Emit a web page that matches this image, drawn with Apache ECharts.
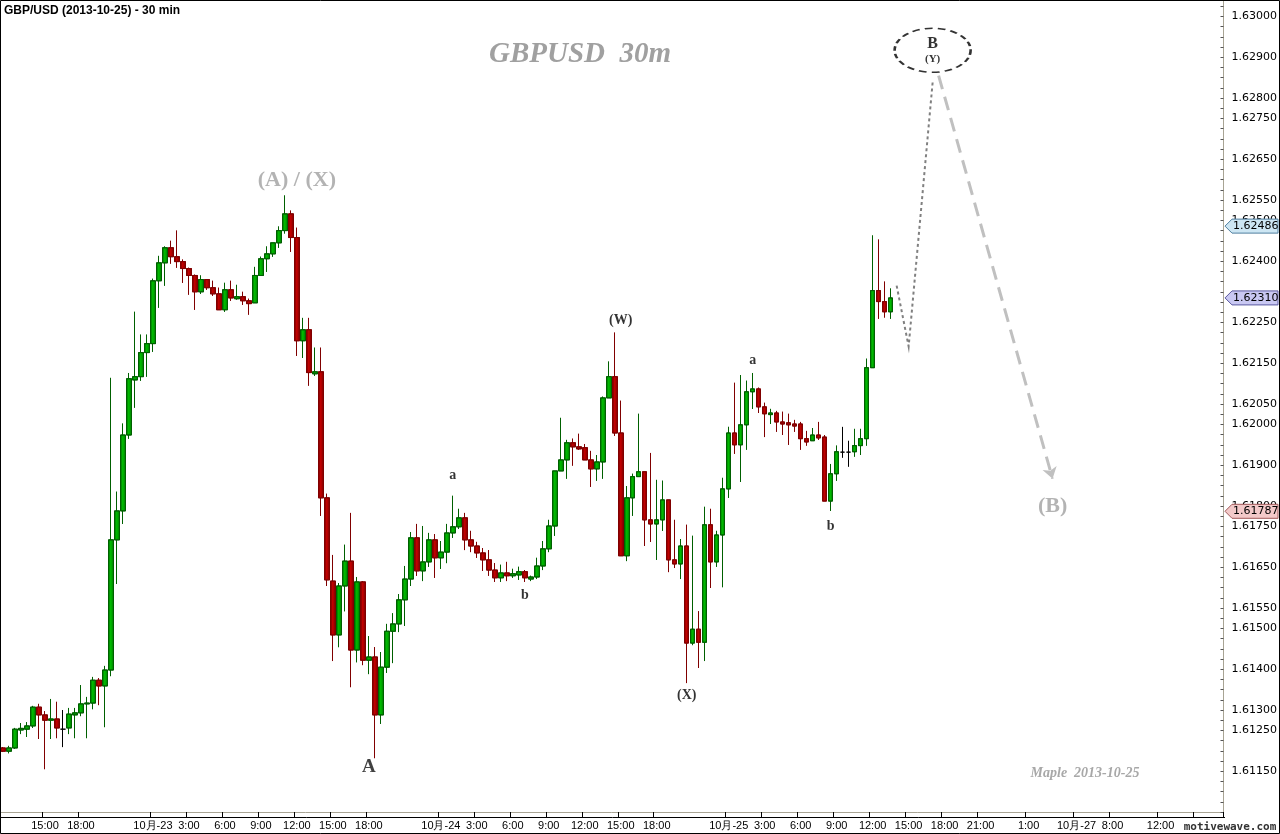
<!DOCTYPE html>
<html><head><meta charset="utf-8">
<script src="https://cdn.jsdelivr.net/npm/echarts@6.0.0/dist/echarts.min.js"></script>
<style>html,body{margin:0;padding:0;background:#fff}#c{width:1280px;height:834px}</style>
</head><body><div id="c"></div>
<script>
// ---- data ----
const sessions = [['2013-10-22 11:30','2013-10-26 04:30'],['2013-10-27 05:00','2013-10-27 17:00']];
// [open, close, low, high] one row per 30-min bar starting 10-22 11:30
const candles = [
[1.61207,1.61199,1.61197,1.61209],[1.61199,1.61207,1.61194,1.61212],[1.61207,1.61253,1.61205,1.61256],[1.61251,1.61255,1.61241,1.61268],[1.61253,1.61261,1.61234,1.61270],
[1.61261,1.61307,1.61256,1.61310],[1.61307,1.61288,1.61229,1.61315],[1.61288,1.61275,1.61155,1.61297],[1.61275,1.61278,1.61229,1.61327],[1.61278,1.61256,1.61231,1.61320],
[1.61253,1.61253,1.61209,1.61300],[1.61256,1.61290,1.61241,1.61305],[1.61288,1.61293,1.61231,1.61305],[1.61293,1.61315,1.61285,1.61361],[1.61315,1.61317,1.61231,1.61332],
[1.61317,1.61373,1.61302,1.61381],[1.61373,1.61359,1.61312,1.61378],[1.61359,1.61398,1.61258,1.61408],[1.61398,1.61717,1.61383,1.62114],[1.61717,1.61788,1.61609,1.61835],
[1.61788,1.61974,1.61756,1.62002],[1.61974,1.62112,1.61965,1.62126],[1.62109,1.62117,1.62041,1.62276],[1.62117,1.62176,1.62107,1.62220],[1.62176,1.62198,1.62117,1.62220],
[1.62198,1.62352,1.62178,1.62357],[1.62352,1.62396,1.62286,1.62413],[1.62396,1.62433,1.62340,1.62436],[1.62433,1.62411,1.62394,1.62450],[1.62411,1.62399,1.62384,1.62475],
[1.62399,1.62382,1.62347,1.62404],[1.62382,1.62365,1.62318,1.62384],[1.62365,1.62325,1.62281,1.62367],[1.62325,1.62355,1.62320,1.62365],[1.62355,1.62335,1.62330,1.62355],
[1.62335,1.62320,1.62315,1.62352],[1.62320,1.62281,1.62281,1.62335],[1.62281,1.62330,1.62276,1.62347],[1.62330,1.62310,1.62303,1.62352],[1.62308,1.62313,1.62306,1.62342],
[1.62313,1.62303,1.62293,1.62325],[1.62303,1.62296,1.62269,1.62308],[1.62298,1.62365,1.62298,1.62386],[1.62365,1.62406,1.62365,1.62411],[1.62406,1.62418,1.62374,1.62436],
[1.62418,1.62445,1.62411,1.62445],[1.62445,1.62475,1.62433,1.62485],[1.62475,1.62516,1.62468,1.62561],[1.62516,1.62458,1.62423,1.62524],[1.62458,1.62205,1.62168,1.62482],
[1.62205,1.62232,1.62163,1.62261],[1.62232,1.62127,1.62095,1.62261],[1.62124,1.62129,1.62119,1.62188],[1.62129,1.61820,1.61776,1.62188],[1.61820,1.61619,1.61604,1.61830],
[1.61616,1.61484,1.61420,1.61680],[1.61484,1.61604,1.61454,1.61611],[1.61604,1.61665,1.61542,1.61705],[1.61665,1.61447,1.61356,1.61783],[1.61447,1.61614,1.61417,1.61626],
[1.61614,1.61422,1.61410,1.61616],[1.61422,1.61430,1.61388,1.61481],[1.61430,1.61288,1.61182,1.61454],[1.61288,1.61405,1.61266,1.61442],[1.61405,1.61493,1.61391,1.61511],
[1.61493,1.61511,1.61415,1.61537],[1.61511,1.61570,1.61491,1.61584],[1.61570,1.61621,1.61506,1.61653],[1.61621,1.61722,1.61604,1.61736],[1.61722,1.61641,1.61629,1.61756],
[1.61641,1.61663,1.61616,1.61751],[1.61663,1.61717,1.61651,1.61734],[1.61717,1.61673,1.61624,1.61731],[1.61673,1.61687,1.61646,1.61714],[1.61687,1.61734,1.61660,1.61756],
[1.61734,1.61749,1.61722,1.61825],[1.61749,1.61771,1.61744,1.61793],[1.61771,1.61717,1.61692,1.61783],[1.61717,1.61702,1.61687,1.61739],[1.61702,1.61685,1.61673,1.61712],
[1.61685,1.61668,1.61641,1.61697],[1.61668,1.61643,1.61629,1.61692],[1.61643,1.61624,1.61614,1.61660],[1.61624,1.61636,1.61614,1.61656],[1.61636,1.61629,1.61616,1.61663],
[1.61629,1.61634,1.61624,1.61646],[1.61631,1.61639,1.61619,1.61651],[1.61639,1.61624,1.61614,1.61643],[1.61621,1.61626,1.61616,1.61629],[1.61626,1.61653,1.61621,1.61673],
[1.61653,1.61695,1.61643,1.61714],[1.61695,1.61751,1.61687,1.61766],[1.61751,1.61886,1.61727,1.61886],[1.61886,1.61913,1.61886,1.62016],[1.61913,1.61955,1.61867,1.61962],
[1.61955,1.61945,1.61899,1.61965],[1.61945,1.61940,1.61938,1.61977],[1.61943,1.61913,1.61913,1.61952],[1.61913,1.61891,1.61847,1.61935],[1.61891,1.61908,1.61862,1.61925],
[1.61908,1.62065,1.61867,1.62068],[1.62065,1.62117,1.62065,1.62154],[1.62117,1.61979,1.61972,1.62225],[1.61979,1.61678,1.61678,1.62058],[1.61678,1.61820,1.61665,1.61849],
[1.61820,1.61872,1.61776,1.61879],[1.61872,1.61884,1.61872,1.62026],[1.61884,1.61766,1.61702,1.61884],[1.61766,1.61756,1.61712,1.61930],[1.61756,1.61766,1.61668,1.61864],
[1.61766,1.61815,1.61739,1.61862],[1.61815,1.61668,1.61638,1.61815],[1.61668,1.61658,1.61648,1.61766],[1.61658,1.61702,1.61621,1.61719],[1.61702,1.61464,1.61366,1.61754],
[1.61464,1.61498,1.61459,1.61727],[1.61498,1.61466,1.61403,1.61542],[1.61466,1.61754,1.61420,1.61798],[1.61754,1.61663,1.61599,1.61793],[1.61663,1.61729,1.61651,1.61739],
[1.61729,1.61842,1.61601,1.61869],[1.61842,1.61979,1.61820,1.61994],[1.61979,1.61950,1.61928,1.62102],[1.61950,1.61999,1.61859,1.62121],[1.61999,1.62080,1.61938,1.62107],
[1.62080,1.62087,1.62038,1.62126],[1.62087,1.62043,1.62028,1.62090],[1.62043,1.62026,1.61969,1.62053],[1.62024,1.62028,1.62001,1.62038],[1.62028,1.62006,1.61982,1.62033],
[1.62006,1.62001,1.61974,1.62031],[1.62004,1.61999,1.61950,1.62026],[1.62001,1.61996,1.61982,1.62011],[1.62001,1.61965,1.61938,1.62006],[1.61965,1.61957,1.61948,1.61984],
[1.61960,1.61974,1.61960,1.61991],[1.61974,1.61967,1.61962,1.62006],[1.61969,1.61812,1.61812,1.61974],[1.61812,1.61879,1.61788,1.61903],[1.61879,1.61933,1.61862,1.61948],
[1.61932,1.61932,1.61918,1.61994],[1.61932,1.61932,1.61896,1.61960],[1.61933,1.61948,1.61921,1.61989],[1.61948,1.61965,1.61925,1.61989],[1.61965,1.62139,1.61948,1.62161],
[1.62139,1.62328,1.62139,1.62463],[1.62328,1.62301,1.62259,1.62453],[1.62301,1.62276,1.62262,1.62350],[1.62276,1.62310,1.62259,1.62333]
];
const xTickLabels = {
 '10-22 15:00':'15:00','10-22 18:00':'18:00',
 '10-23 00:00':'10月-23','10-23 03:00':'3:00','10-23 06:00':'6:00','10-23 09:00':'9:00','10-23 12:00':'12:00','10-23 15:00':'15:00','10-23 18:00':'18:00',
 '10-24 00:00':'10月-24','10-24 03:00':'3:00','10-24 06:00':'6:00','10-24 09:00':'9:00','10-24 12:00':'12:00','10-24 15:00':'15:00','10-24 18:00':'18:00',
 '10-25 00:00':'10月-25','10-25 03:00':'3:00','10-25 06:00':'6:00','10-25 09:00':'9:00','10-25 12:00':'12:00','10-25 15:00':'15:00','10-25 18:00':'18:00','10-25 21:00':'21:00',
 '10-26 01:00':'1:00','10-27 05:00':'10月-27','10-27 08:00':'8:00','10-27 12:00':'12:00','10-27 15:00':'15:00'
};
const yTickLabels = [1.63000,1.62900,1.62800,1.62750,1.62650,1.62550,1.62500,1.62400,1.62300,1.62250,1.62150,1.62050,1.62000,1.61900,1.61800,1.61750,1.61650,1.61550,1.61500,1.61400,1.61300,1.61250,1.61150];
const priceMarkers = [1.62486, 1.62310, 1.61787];
// wave labels: [text, bar time, price, kind]
const waveLabels = [
 ['(A) / (X)','10-23 12:00',1.62598,'grayBig'],
 ['A','10-23 18:00',1.61160,'major'],
 ['a','10-24 01:00',1.61874,'minor'],
 ['b','10-24 07:00',1.61582,'minor'],
 ['(W)','10-24 15:00',1.62256,'minor'],
 ['(X)','10-24 20:30',1.61336,'minor'],
 ['a','10-25 02:00',1.62156,'minor'],
 ['b','10-25 08:30',1.61751,'minor'],
 ['(B)','10-26 03:00',1.61800,'grayBig']
];
const ellipseLabel = ['B','(Y)','10-25 17:00',1.62917];
const projDotted = [['10-25 14:00',1.62340],['10-25 15:00',1.62191],['10-25 17:00',1.62838]];
const projDashed = [['10-25 17:30',1.62855],['10-26 03:00',1.61867]];

// ---- build ----
const pad = n => String(n).padStart(2,'0');
function parseT(s){const [d,t]=s.split(' ');const [Y,M,D]=d.split('-').map(Number);const [h,m]=t.split(':').map(Number);return Date.UTC(Y,M-1,D,h,m);}
const categories = [];
sessions.forEach(([a,b])=>{for(let t=parseT(a);t<=parseT(b);t+=1800000){const d=new Date(t);categories.push(pad(d.getUTCMonth()+1)+'-'+pad(d.getUTCDate())+' '+pad(d.getUTCHours())+':'+pad(d.getUTCMinutes()));}});

const G = echarts.graphic;
const upFill = new G.LinearGradient(0,0,1,0,[{offset:0,color:'#005a00'},{offset:0.45,color:'#00c000'},{offset:1,color:'#007000'}]);
const dnFill = new G.LinearGradient(0,0,1,0,[{offset:0,color:'#5a0000'},{offset:0.45,color:'#c80000'},{offset:1,color:'#700000'}]);
const candleData = candles.map(r => r[0]===r[1]
  ? {value:r, itemStyle:{color:'#000',color0:'#000',borderColor:'#000',borderColor0:'#000'}}
  : r);

const kindStyle = {
  grayBig:{color:'#a0a0a0',fontSize:22,fontWeight:'bold',fontFamily:'Liberation Serif'},
  major:{color:'#111',fontSize:19,fontWeight:'bold',fontFamily:'Liberation Serif'},
  minor:{color:'#000',fontSize:14,fontWeight:'bold',fontFamily:'Liberation Serif'}
};
const labelSeries = waveLabels.map(([txt,t,p,k])=>({
  value:[t,p], label:Object.assign({show:true,position:'inside',formatter:txt},kindStyle[k])
}));

const yLabelSet = new Set(yTickLabels.map(v=>Math.round(v*100000)));

const chart = echarts.init(document.getElementById('c'), null, {renderer:'canvas'});
const option = {
  animation:false,
  backgroundColor:'#fff',
  grid:{left:0,right:55,top:0,bottom:22,containLabel:false},
  xAxis:{type:'category',data:categories,boundaryGap:true,
    axisLine:{show:true,lineStyle:{color:'#a8a494',width:1}},
    axisTick:{show:true,length:5,interval:(i,v)=>v in xTickLabels,lineStyle:{color:'#000'}},
    axisLabel:{interval:(i,v)=>v in xTickLabels,formatter:v=>xTickLabels[v]||'',color:'#000',fontSize:11,fontFamily:'Liberation Sans',margin:8},
    splitLine:{show:false}},
  yAxis:{type:'value',position:'right',min:1.6105,max:1.630402,interval:0.00025,scale:true,
    axisLine:{show:true,lineStyle:{color:'#a8a494'}},
    axisTick:{show:true,inside:true,length:3,lineStyle:{color:'#555'}},
    axisLabel:{formatter:v=>yLabelSet.has(Math.round(v*100000))?v.toFixed(5):'',color:'#000',fontSize:11,fontFamily:'DejaVu Sans',margin:8,showMinLabel:true,showMaxLabel:true},
    splitLine:{show:false}},
  series:[
    {type:'candlestick',data:candleData,barWidth:5,
      itemStyle:{color:upFill,color0:dnFill,borderColor:'#006000',borderColor0:'#800000',borderWidth:1}},
    {type:'lines',coordinateSystem:'cartesian2d',polyline:true,z:5,
      lineStyle:{color:'#808080',width:2,type:[3,3],opacity:1},
      data:[{coords:projDotted}]},
    {type:'lines',coordinateSystem:'cartesian2d',z:5,symbol:['none','arrow'],symbolSize:[0,11],
      lineStyle:{color:'#c0c0c0',width:3,type:[14,8],opacity:1},
      data:[{coords:projDashed}]},
    {type:'scatter',symbolSize:1,itemStyle:{color:'rgba(0,0,0,0)'},z:10,data:labelSeries},
    {type:'scatter',z:10,symbol:'circle',symbolSize:[76,44],
      itemStyle:{color:'#fff',borderColor:'#000',borderWidth:2,borderType:[6,4]},
      label:{show:true,position:'inside',formatter:'{b|'+ellipseLabel[0]+'}\n{y|'+ellipseLabel[1]+'}',
        rich:{b:{fontSize:16,fontWeight:'bold',fontFamily:'Liberation Serif',color:'#000',lineHeight:17},
              y:{fontSize:11,fontWeight:'bold',fontFamily:'Liberation Serif',color:'#000',lineHeight:13}}},
      data:[[ellipseLabel[2],ellipseLabel[3]]]}
  ],
  graphic:[]
};
chart.setOption(option);

// price markers on the right axis + static texts
const markerFill = ['#cde6f3','#c9c8f2','#f3c9c9'];
const markerStroke = ['#4f7f9f','#5a58a0','#a05858'];
const gr = [];
priceMarkers.forEach((v,i)=>{
  const y = chart.convertToPixel({yAxisIndex:0}, v);
  const x0 = 1225;
  gr.push({type:'polygon',z:100,shape:{points:[[x0,y],[x0+7,y-7],[1278,y-7],[1278,y+7],[x0+7,y+7]]},
    style:{fill:markerFill[i],stroke:markerStroke[i],lineWidth:1}});
  gr.push({type:'text',z:101,x:1233,y:y,style:{text:v.toFixed(5),fill:'#000',font:'11px "DejaVu Sans"',textVerticalAlign:'middle'}});
});
gr.push({type:'text',left:4,top:5,z:100,style:{text:'GBP/USD (2013-10-25) - 30 min',fill:'#000',font:'bold 12px "Liberation Sans"'}});
gr.push({type:'text',x:580,y:55,z:100,style:{text:'GBPUSD  30m',fill:'#a0a0a0',font:'italic bold 29px "Liberation Serif"',textAlign:'center',textVerticalAlign:'middle'}});
gr.push({type:'text',x:1085,y:773,z:100,style:{text:'Maple  2013-10-25',fill:'#a8a8a8',font:'italic bold 14px "Liberation Serif"',textAlign:'center',textVerticalAlign:'middle'}});
gr.push({type:'rect',z:100,shape:{x:1181,y:819,width:98,height:14},style:{fill:'#fff'}});
gr.push({type:'text',x:1230,y:827,z:101,style:{text:'motivewave.com',fill:'#333',font:'bold 11px "DejaVu Sans Mono"',textAlign:'center',textVerticalAlign:'middle'}});
gr.push({type:'line',z:100,shape:{x1:0,y1:817.5,x2:1225,y2:817.5},style:{stroke:'#000',lineWidth:1}});
gr.push({type:'rect',z:120,shape:{x:0.5,y:0.5,width:1279,height:833},style:{fill:'none',stroke:'#000',lineWidth:1}});
chart.setOption({graphic:gr});
</script></body></html>
